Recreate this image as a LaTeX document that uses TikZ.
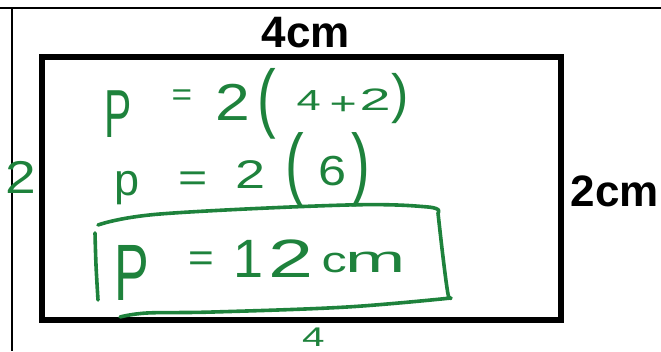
\documentclass[tikz,border=0pt]{standalone}
\usepackage{graphicx}
\usepackage{fontspec}
\setmainfont{Liberation Sans}
\definecolor{ink}{RGB}{30,130,60}
\newcommand\hfs[1]{\fontsize{#1}{#1}\selectfont}
% place a token at a horizontal offset, raised, scaled (x and y)
\newcommand\tok[5]{\makebox[0pt][l]{\hspace{#1pt}\raisebox{#2pt}{\scalebox{#3}[#4]{#5}}}}
\tikzset{
  frame/.style={draw=black, line width=2pt},
  rectline/.style={draw=black, line width=6pt, line join=miter},
  dimlabel/.style={font=\hfs{44}\bfseries, inner sep=0pt, text=black},
  hand/.style={text=ink, inner sep=0pt, anchor=base west},
  handstroke/.style={draw=ink, line width=3.6pt, line cap=round, line join=round}
}
\begin{document}
\begin{tikzpicture}[x=1pt,y=-1pt]
\useasboundingbox (0,0) rectangle (661,351);
% page frame lines
\coordinate (tl) at (0,7.7);
\coordinate (tr) at (661,7.7);
\coordinate (lt) at (12,7.7);
\coordinate (lb) at (12,351);
\draw[frame] (tl) -- (tr);
\draw[frame] (lt) -- (lb);
% rectangle
\draw[rectline] (42.3,56.7) rectangle (560.7,320);
% dimension labels
\node[dimlabel, anchor=base] (top) at (306,47) {4cm};
\node[dimlabel, anchor=base west] (right) at (570.5,206) {2cm};
% handwritten side labels
\node[hand] (left2) at (5,193) {\scalebox{1.2}[1]{\hfs{46}2}};
\node[hand] (bot4) at (302,346) {\scalebox{1.5}[1]{\hfs{27}4}};
% line 1: P = 2(4+2)
\node[hand] (line1) at (105,111) {%
\tok{-1}{-26}{0.6}{1}{\hfs{68}P}%
\tok{66}{5.5}{1.1}{1}{\hfs{32}=}%
\tok{110}{-9}{1.2}{1}{\hfs{52}2}%
\tok{152}{-12.5}{1.4}{1.9}{\hfs{40}(}%
\tok{191}{1}{1.5}{1}{\hfs{29}4}%
\tok{224}{-3.5}{1.5}{1}{\hfs{31}+}%
\tok{254}{1}{1.8}{1}{\hfs{31}2}%
\tok{286}{-1.4}{1.3}{1.35}{\hfs{40})}};
% line 2: p = 2(6)
\node[hand] (line2) at (105,190) {%
\tok{9}{-5}{1}{1}{\hfs{45}p}%
\tok{73}{-1}{1.25}{1}{\hfs{40}=}%
\tok{130}{2}{1.35}{1}{\hfs{40}2}%
\tok{180}{0}{1.4}{2}{\hfs{40}(}%
\tok{213}{5}{1.2}{1}{\hfs{42}6}%
\tok{246}{0}{1.4}{2}{\hfs{40})}};
% line 3: P = 12cm
\node[hand] (line3) at (105,277) {%
\tok{9}{-23}{0.65}{1}{\hfs{80}P}%
\tok{83}{5.6}{1.1}{1}{\hfs{40}=}%
\tok{128}{0}{1}{1}{\hfs{54}1}%
\tok{163}{0}{1.5}{1}{\hfs{54}2}%
\tok{216}{5}{1.4}{1}{\hfs{36}c}%
\tok{240}{5}{1.9}{1}{\hfs{38}m}};
% hand-drawn box around the answer
\draw[handstroke] plot[smooth, tension=0.6] coordinates
  {(98,225) (160,214) (347,205) (428,207) (438,213)}
  -- plot[smooth, tension=0.6] coordinates
  {(438,213) (443,257) (448,294) (451,298)}
  -- plot[smooth, tension=0.6] coordinates
  {(451,298) (347,307) (213,312) (147,313) (120,317)};
\draw[handstroke] plot[smooth, tension=0.6] coordinates
  {(95,233) (96,265) (98,300)};
\end{tikzpicture}
\end{document}
